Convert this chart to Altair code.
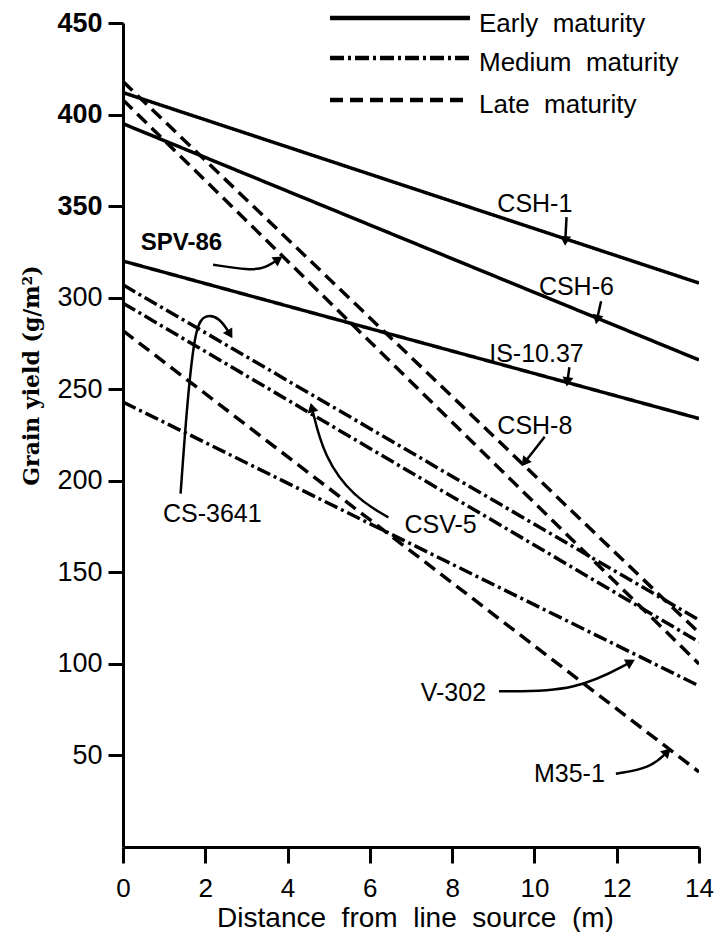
import math
import altair as alt
import pandas as pd

# ---- data ----
varieties = ["CSH-1", "CSH-6", "IS-10.37", "CSH-8", "SPV-86", "CS-3641", "CSV-5", "V-302", "M35-1"]
maturity = ["Early", "Early", "Early", "Late", "Late", "Medium", "Medium", "Medium", "Late"]
distance_ends = [0, 14]
yield_at_0m = [412, 395, 320, 418, 408, 307, 297, 243, 282]
yield_at_14m = [308, 266, 234, 117, 100, 124, 112, 88, 41]

maturity_order = ["Early", "Medium", "Late"]
legend_labels = ["Early\u00a0 maturity", "Medium\u00a0 maturity", "Late\u00a0 maturity"]

y_ticks = [50, 100, 150, 200, 250, 300, 350, 400, 450]
x_ticks = [0, 2, 4, 6, 8, 10, 12, 14]

# annotation labels (data coordinates) and arrow paths
label_text = ["CSH-1", "CSH-6", "IS-10.37", "CSH-8", "SPV-86", "CS-3641", "CSV-5", "V-302", "M35-1"]
label_x = [10.01, 11.02, 10.05, 10.01, 1.42, 2.17, 7.72, 8.03, 10.85]
label_y = [351, 306, 269, 230, 330, 182, 176, 84, 40]
label_bold = [False, False, False, False, True, False, False, False, False]

arrow_paths = [
    [(10.78, 344), (10.75, 331)],
    [(11.62, 298), (11.52, 288)],
    [(10.85, 262), (10.80, 254)],
    [(10.25, 224), (9.76, 210)],
    [(2.19, 318), (3.08, 315), (3.44, 316), (3.78, 321)],
    [(1.40, 193), (1.56, 243), (1.76, 285), (2.00, 291), (2.36, 289), (2.60, 280)],
    [(6.45, 180), (5.61, 191), (4.88, 213), (4.59, 240)],
    [(9.14, 85), (11.02, 85), (12.34, 101)],
    [(11.98, 40), (12.82, 43), (13.23, 52)],
]

W, H = 576, 824
XMAX, YMAX = 14, 450

# ---- tables ----
line_rows = []
for v, m, a, b in zip(varieties, maturity, yield_at_0m, yield_at_14m):
    line_rows.append({"variety": v, "maturity": m, "distance": distance_ends[0], "yield": a})
    line_rows.append({"variety": v, "maturity": m, "distance": distance_ends[1], "yield": b})
lines_df = pd.DataFrame(line_rows)

labels_df = pd.DataFrame({"text": label_text, "x": label_x, "y": label_y, "bold": label_bold})

arrow_rows, head_rows = [], []
for i, path in enumerate(arrow_paths):
    for j, (x, y) in enumerate(path):
        arrow_rows.append({"id": i, "seq": j, "x": x, "y": y})
    (x1, y1), (x2, y2) = path[-2], path[-1]
    dx = (x2 - x1) * W / XMAX
    dy = -(y2 - y1) * H / YMAX
    ang = math.degrees(math.atan2(dx, -dy)) % 360
    head_rows.append({"x": x2, "y": y2, "angle": ang})
arrows_df = pd.DataFrame(arrow_rows)
heads_df = pd.DataFrame(head_rows)

dash_scale = alt.Scale(domain=maturity_order, range=[[1, 0], [14, 4, 3, 4], [13, 7]])
dash_values = {"Early": [1, 0], "Medium": [14, 4, 3, 4], "Late": [13, 7]}
xs = alt.Scale(domain=[0, XMAX], nice=False)
ys = alt.Scale(domain=[0, YMAX], nice=False)

FONT = "Liberation Sans"
NB = "\u00a0"
x_title = f"Distance{NB} from{NB} line{NB} source{NB} (m)"

lines = alt.Chart(lines_df).mark_line(color="black", strokeWidth=3.5, clip=True).encode(
    x=alt.X("distance:Q", scale=xs, axis=alt.Axis(
        values=x_ticks, title=x_title, grid=False,
        domainColor="black", domainWidth=3, tickColor="black", tickWidth=3, tickSize=16,
        labelFont=FONT, labelFontSize=26, labelColor="black", labelPadding=12,
        labelFlush=False,
        titleFont=FONT, titleFontSize=28, titleFontWeight="normal", titleColor="black",
        titleX=292, titleY=57, titleAnchor="middle", titleBaseline="top")),
    y=alt.Y("yield:Q", scale=ys, axis=alt.Axis(
        values=y_ticks, title="Grain yield (g/m²)", grid=False,
        domainColor="black", domainWidth=3, tickColor="black", tickWidth=3, tickSize=15,
        labelFont=FONT, labelFontSize=27, labelColor="black", labelPadding=6,
        labelFontWeight={"condition": {"test": "datum.value >= 350", "value": "bold"}, "value": "normal"},
        titleFont="DejaVu Serif", titleFontSize=22, titleFontWeight="bold", titleColor="black",
        titleAngle=270, titleX=-92, titleY=352, titleAnchor="middle", titleBaseline="middle")),
    strokeDash=alt.StrokeDash("maturity:N", scale=dash_scale, legend=None),
    detail="variety:N",
)

arrows = alt.Chart(arrows_df).mark_line(color="black", strokeWidth=2.5, interpolate="basis").encode(
    x=alt.X("x:Q", scale=xs), y=alt.Y("y:Q", scale=ys), detail="id:N", order="seq:Q"
)

heads = alt.Chart(heads_df).mark_point(shape="triangle-up", filled=True, color="black",
                                        opacity=1, size=120).encode(
    x=alt.X("x:Q", scale=xs), y=alt.Y("y:Q", scale=ys), angle=alt.Angle("angle:Q", scale=None)
)

labels_normal = alt.Chart(labels_df).transform_filter("!datum.bold").mark_text(
    font=FONT, fontSize=25, color="black", align="center", baseline="middle").encode(
    x=alt.X("x:Q", scale=xs), y=alt.Y("y:Q", scale=ys), text="text:N",
)
labels_bold = alt.Chart(labels_df).transform_filter("datum.bold").mark_text(
    font=FONT, fontSize=24, fontWeight="bold", color="black", align="center", baseline="middle").encode(
    x=alt.X("x:Q", scale=xs), y=alt.Y("y:Q", scale=ys), text="text:N",
)

legend_layers = []
legend_line_px = [-5, 35, 77]
legend_text_px = [1, 40, 82]
for m, lab, py, ty in zip(maturity_order, legend_labels, legend_line_px, legend_text_px):
    legend_layers.append(
        alt.Chart(pd.DataFrame({"maturity": [m]})).mark_rule(
            color="black", strokeWidth=4.5, strokeDash=dash_values[m]).encode(
            x=alt.value(207), x2=alt.value(347), y=alt.value(py))
    )
    legend_layers.append(
        alt.Chart(pd.DataFrame({"label": [lab]})).mark_text(
            font=FONT, fontSize=26, color="black", align="left", baseline="middle").encode(
            x=alt.value(356), y=alt.value(ty), text="label:N")
    )

chart = alt.layer(lines, arrows, heads, labels_normal, labels_bold, *legend_layers).properties(
    width=W, height=H,
    autosize=alt.AutoSizeParams(type="none"),
    padding={"left": 115, "top": 15, "right": 15, "bottom": 85},
    background="white",
).configure_view(stroke=None)

chart.save("out.html", embed_options={"renderer": "svg", "actions": False})
